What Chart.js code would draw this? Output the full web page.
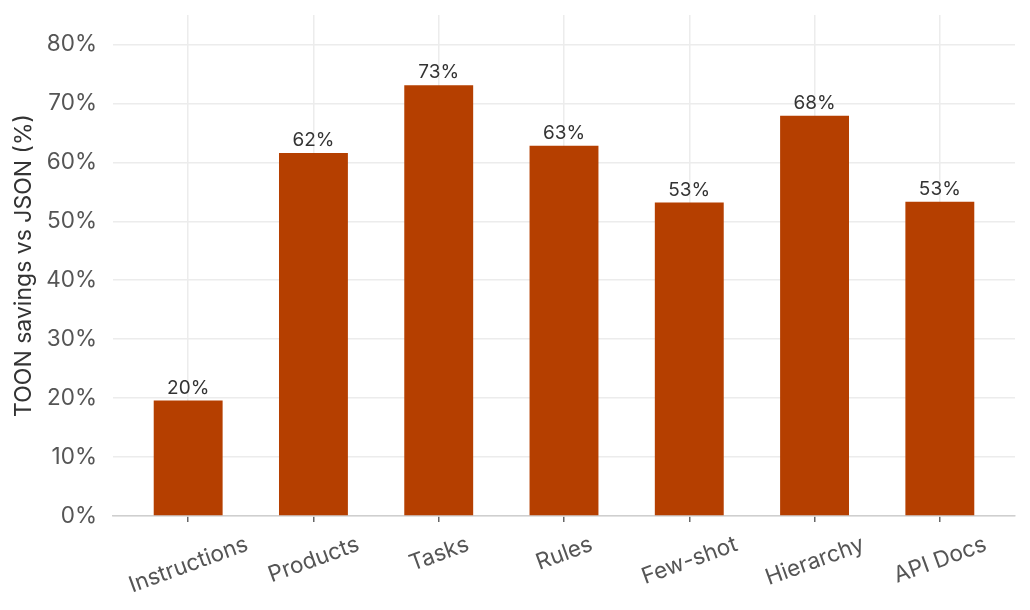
<!DOCTYPE html>
<html>
<head>
<meta charset="utf-8">
<script src="https://cdn.jsdelivr.net/npm/chart.js@4"></script>
<style>
  html, body { margin: 0; padding: 0; background: #fff; }
  #wrap { width: 1030px; height: 610px; position: relative; }
</style>
</head>
<body>
<div id="wrap"><canvas id="savingsChart"></canvas></div>
<script>
// data
const categories = ['Instructions', 'Products', 'Tasks', 'Rules', 'Few-shot', 'Hierarchy', 'API Docs'];
const savings = [19.6, 61.6, 73.1, 62.8, 53.2, 67.9, 53.3];
const yTicks = [0, 10, 20, 30, 40, 50, 60, 70, 80];

const barColor = '#b53f00';
const fontFamily = 'Inter, "DejaVu Sans", sans-serif';
const tickSize = 22.5;
const labelAngle = 20 * Math.PI / 180;

// labels above each bar
const valueLabels = {
    id: 'valueLabels',
    afterDatasetsDraw(chart) {
        const ctx = chart.ctx;
        const meta = chart.getDatasetMeta(0);
        ctx.save();
        ctx.font = '19px ' + fontFamily;
        ctx.fillStyle = '#333';
        ctx.textAlign = 'center';
        ctx.textBaseline = 'bottom';
        meta.data.forEach((bar, i) => {
            ctx.fillText(Math.round(savings[i]) + '%', bar.x, bar.y - 3);
        });
        ctx.restore();
    }
};

// category names, rotated 20deg and centred under their tick
const categoryLabels = {
    id: 'categoryLabels',
    afterDraw(chart) {
        const ctx = chart.ctx;
        const xs = chart.scales.x;
        const top = xs.top + 19;
        ctx.save();
        ctx.font = tickSize + 'px ' + fontFamily;
        ctx.fillStyle = '#555';
        ctx.textAlign = 'center';
        ctx.textBaseline = 'middle';
        categories.forEach((name, i) => {
            const w = ctx.measureText(name).width;
            const h = tickSize * 0.73;
            const cy = top + (w * Math.sin(labelAngle) + h * Math.cos(labelAngle)) / 2;
            ctx.save();
            ctx.translate(xs.getPixelForValue(i), cy);
            ctx.rotate(-labelAngle);
            ctx.fillText(name, 0, 1);
            ctx.restore();
        });
        ctx.restore();
    }
};

const ctx = document.getElementById('savingsChart').getContext('2d');
new Chart(ctx, {
    type: 'bar',
    data: {
        datasets: [{
            data: savings.map((v, i) => ({ x: i, y: v })),
            backgroundColor: barColor,
            borderWidth: 0,
            barPercentage: 0.55,
            categoryPercentage: 1
        }]
    },
    options: {
        responsive: true,
        maintainAspectRatio: false,
        animation: false,
        layout: { padding: { top: 15, right: 15, left: 0, bottom: 0 } },
        plugins: {
            legend: { display: false },
            tooltip: { enabled: false }
        },
        scales: {
            x: {
                type: 'linear',
                offset: false,
                min: -0.6,
                max: categories.length - 0.4,
                afterBuildTicks: scale => {
                    scale.ticks = categories.map((c, i) => ({ value: i }));
                },
                afterFit: scale => {
                    scale.height = 94;
                    scale.paddingLeft = 0;
                    scale.paddingRight = 0;
                },
                grid: {
                    offset: false,
                    color: '#ececec',
                    lineWidth: 1.5,
                    tickColor: '#666',
                    tickLength: 6,
                    drawTicks: true
                },
                border: { display: true, color: '#cfcfcf', width: 1.5 },
                ticks: { display: false }
            },
            y: {
                min: 0,
                max: 85,
                afterBuildTicks: scale => {
                    scale.ticks = yTicks.map(v => ({ value: v }));
                },
                afterFit: scale => {
                    scale.width = 113;
                    scale.paddingTop = 0;
                    scale.paddingBottom = 0;
                },
                grid: { color: '#ececec', lineWidth: 1.5, drawTicks: false },
                border: { display: false },
                ticks: {
                    callback: v => v + '%',
                    color: '#555',
                    padding: 16,
                    font: { family: fontFamily, size: tickSize }
                },
                title: {
                    display: true,
                    text: 'TOON savings vs JSON (%)',
                    color: '#333',
                    padding: { top: 10, bottom: 4 },
                    font: { family: fontFamily, size: 23 }
                }
            }
        }
    },
    plugins: [valueLabels, categoryLabels]
});
</script>
</body>
</html>
